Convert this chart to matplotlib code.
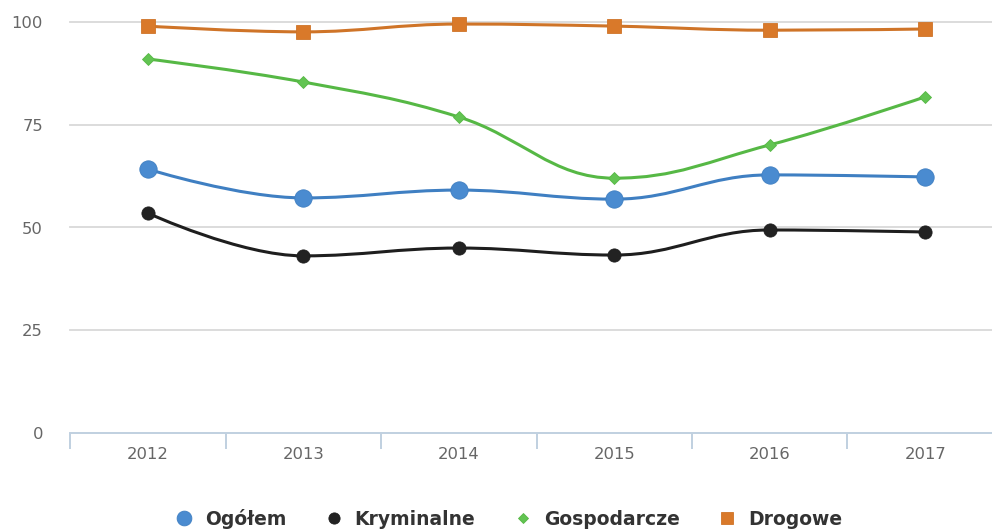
import numpy as np
import matplotlib
matplotlib.use("Agg")
import matplotlib.pyplot as plt
from matplotlib.path import Path
from matplotlib.patches import PathPatch
from matplotlib.lines import Line2D

years = ["2012", "2013", "2014", "2015", "2016", "2017"]
ogolem = [64.2, 57.2, 59.1, 56.9, 62.8, 62.3]
kryminalne = [53.5, 43.1, 45.0, 43.3, 49.4, 48.9]
gospodarcze = [91.0, 85.4, 76.9, 62.0, 70.1, 81.8]
drogowe = [99.0, 97.6, 99.5, 99.0, 98.0, 98.3]
series_names = ["Ogółem", "Kryminalne", "Gospodarcze", "Drogowe"]
y_ticks = [0, 25, 50, 75, 100]


def spline_path(xs, ys):
    """Highcharts-like spline through points."""
    n = len(xs)
    lc = [None] * n
    rc = [None] * n
    smoothing, denom = 1.5, 2.5
    for i in range(1, n - 1):
        px, py = xs[i], ys[i]
        lx, ly = xs[i - 1], ys[i - 1]
        nx, ny = xs[i + 1], ys[i + 1]
        lcx = (smoothing * px + lx) / denom
        lcy = (smoothing * py + ly) / denom
        rcx = (smoothing * px + nx) / denom
        rcy = (smoothing * py + ny) / denom
        if rcx != lcx:
            corr = ((rcy - lcy) * (rcx - px)) / (rcx - lcx) + py - rcy
            lcy += corr
            rcy += corr
        if lcy > ly and lcy > py:
            lcy = max(ly, py)
            rcy = 2 * py - lcy
        elif lcy < ly and lcy < py:
            lcy = min(ly, py)
            rcy = 2 * py - lcy
        if rcy > ny and rcy > py:
            rcy = max(ny, py)
            lcy = 2 * py - rcy
        elif rcy < ny and rcy < py:
            rcy = min(ny, py)
            lcy = 2 * py - rcy
        lc[i] = (lcx, lcy)
        rc[i] = (rcx, rcy)
    verts = [(xs[0], ys[0])]
    codes = [Path.MOVETO]
    for i in range(1, n):
        c1 = rc[i - 1] if rc[i - 1] is not None else (xs[i - 1], ys[i - 1])
        c2 = lc[i] if lc[i] is not None else (xs[i], ys[i])
        verts += [c1, c2, (xs[i], ys[i])]
        codes += [Path.CURVE4] * 3
    return Path(verts, codes)


W, H = 992, 531
fig = plt.figure(figsize=(W / 100, H / 100), dpi=100)
left = 70 / W
right = 1003 / W
bottom = (H - 433) / H
top = (H - 22) / H
ax = fig.add_axes([left, bottom, right - left, top - bottom])

x = np.arange(len(years))
ax.set_xlim(-0.5, len(years) - 0.5)
ax.set_ylim(0, 100)

# grid
for t in y_ticks[1:]:
    ax.axhline(t, color="#d9d9d9", lw=1.3, zorder=0, clip_on=False)

for s in ["top", "right", "left"]:
    ax.spines[s].set_visible(False)
ax.spines["bottom"].set_color("#c0d0e0")
ax.spines["bottom"].set_linewidth(1.4)

ax.set_yticks(y_ticks)
ax.set_yticklabels([str(t) for t in y_ticks])
ax.tick_params(axis="y", length=0, pad=19.5, labelsize=11.8, labelcolor="#666666")

ax.set_xticks(x)
ax.set_xticklabels(years)
ax.tick_params(axis="x", length=0, pad=10, labelsize=11.8, labelcolor="#666666")
ax.set_xticks(np.arange(len(years) + 1) - 0.5, minor=True)
ax.tick_params(axis="x", which="minor", length=11.5, width=1.4, color="#c0d0e0")

styles = [
    (ogolem, "#3f7fc2", "o", 12.5, "#4a8bd0", 4),
    (kryminalne, "#1e1e1e", "o", 9.5, "#222222", 5),
    (gospodarcze, "#56b845", "D", 6.5, "#62c452", 3),
    (drogowe, "#cf7428", "s", 10, "#d9792a", 6),
]
handles = []
for (vals, lc_, mk, ms, mc, z), name in zip(styles, series_names):
    p = spline_path(list(x.astype(float)), list(vals))
    ax.add_patch(PathPatch(p, facecolor="none", edgecolor=lc_, lw=2.2, zorder=z, clip_on=False))
    ax.plot(x, vals, linestyle="none", marker=mk, markersize=ms, color=mc,
            markeredgecolor=lc_, markeredgewidth=0.6, zorder=z + 0.5, clip_on=False)
    handles.append(Line2D([], [], linestyle="none", marker=mk, markersize=ms * 0.85,
                          color=mc, markeredgecolor=lc_, markeredgewidth=0.6, label=name))

leg = fig.legend(handles=handles, loc="center", bbox_to_anchor=(508.5 / W, 1 - 519 / H), ncol=4,
                 frameon=False, handletextpad=0.6, columnspacing=2.05, handlelength=1.0,
                 prop={"family": ["DejaVu Sans"], "weight": "bold", "size": 13.5})
for t in leg.get_texts():
    t.set_color("#333333")

fig.savefig("out.png", dpi=100)
